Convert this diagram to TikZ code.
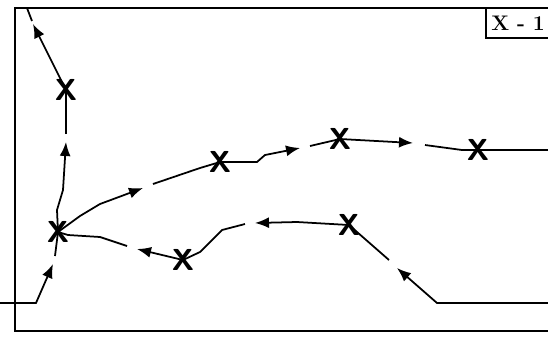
\documentclass[tikz,border=0pt]{standalone}
\usepackage{tikz}
\usetikzlibrary{arrows.meta}

\begin{document}
\begin{tikzpicture}[x=0.02cm, y=-0.02cm,
  cross/.style={font=\sffamily\bfseries\LARGE, inner sep=0pt},
  trail/.style={line width=1pt},
  arr/.style={trail, -{Latex[length=2.8mm, width=2.2mm]}},
  tag/.style={draw, line width=1pt, font=\large, minimum height=0.6cm, inner xsep=3pt}
]

\useasboundingbox (0,0) rectangle (548,336);

% frame and tag
\draw[line width=1.3pt] (548,8) -- (15,8) -- (15,331) -- (548,331);
\node[tag, anchor=east] (lbl) at (551,23) {\textbf{X - 1}};

% crossing points
\node[cross] (c) at (58,232) {X};
\node[cross] (v1) at (66,90) {X};
\node[cross] (u1) at (220,162) {X};
\node[cross] (u2) at (340,139) {X};
\node[cross] (u3) at (478,150) {X};
\node[cross] (l1) at (349,225) {X};
\node[cross] (l2) at (183,260) {X};

\coordinate (in1) at (0,303);
\coordinate (in2) at (548,303);
\coordinate (out1) at (548,150);
\coordinate (top) at (27,8);

% entry from the left
\draw[arr] (in1) -- (36,303) -- (53,264);
\draw[trail] (55,256) -- (c.center);

% vertical branch
\draw[arr] (c.center) -- (57,210) -- (63,190) -- (66,142);
\draw[trail] (66,134) -- (v1.center);
\draw[arr] (v1.center) -- (33,24);
\draw[trail] (32,21) -- (top);

% upper branch
\draw[arr] (c.center) -- (80,216) -- (100,204) -- (143,188);
\draw[trail] (153,184) -- (200,168) -- (u1.center);
\draw[arr] (u1.center) -- (257,162) -- (265,155) -- (300,148);
\draw[trail] (310,146) -- (u2.center);
\draw[arr] (u2.center) -- (413,143);
\draw[trail] (425,145) -- (462,150) -- (u3.center);
\draw[trail] (u3.center) -- (out1);

% lower branch
\draw[arr] (in2) -- (437,303) -- (397,268);
\draw[trail] (389,260) -- (l1.center);
\draw[arr] (l1.center) -- (297,222) -- (255,223);
\draw[trail] (245,224) -- (222,230) -- (200,252) -- (l2.center);
\draw[arr] (l2.center) -- (137,249);
\draw[trail] (127,246) -- (100,237) -- (68,235) -- (c.center);

\end{tikzpicture}
\end{document}
